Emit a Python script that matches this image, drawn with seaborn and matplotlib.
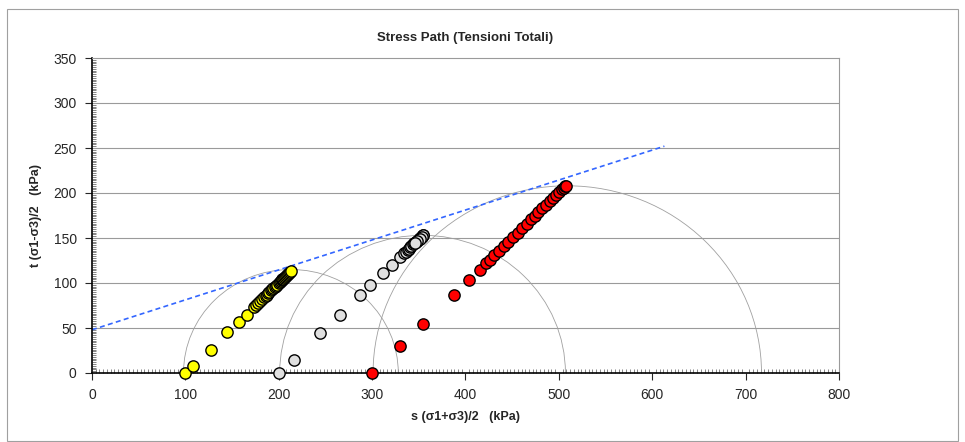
import numpy as np
import pandas as pd
import matplotlib
matplotlib.use('Agg')
import matplotlib.pyplot as plt
from matplotlib.patches import Arc, Rectangle
from matplotlib.ticker import MultipleLocator
import seaborn as sns

# stress path points, s and t in kPa
yellow_s = [100, 108, 127, 145, 157, 166, 173, 176, 178, 180, 182, 184, 186, 187, 189,
            190, 192, 193, 194, 196, 197, 198, 200, 201, 202, 203, 204, 205, 206, 207,
            208, 209, 210, 211, 212, 213]
yellow_t = [0, 8, 26, 46, 57, 65, 73, 76, 78, 80, 82, 84, 86, 87, 89,
            90, 92, 93, 94, 96, 97, 98, 100, 101, 102, 103, 104, 105, 106, 107,
            108, 109, 110, 111, 112, 113]

grey_s = [200, 216, 244, 266, 287, 298, 312, 321, 330, 334, 336, 338, 339, 341, 342,
          344, 345, 347, 348, 350, 351, 353, 354, 355, 353, 351, 348, 346]
grey_t = [0, 15, 44, 64, 87, 98, 111, 120, 129, 133, 135, 137, 138, 140, 141,
          143, 144, 146, 147, 149, 150, 152, 153, 153, 151, 149, 147, 145]

red_s = [300, 330, 355, 388, 404, 415, 422, 426, 431, 436, 441, 446, 451, 456, 461,
         466, 470, 474, 478, 482, 486, 490, 494, 497, 500, 503, 505, 507, 508]
red_t = [0, 30, 54, 87, 103, 114, 122, 126, 131, 136, 141, 146, 151, 156, 161,
         166, 171, 175, 179, 183, 187, 191, 195, 198, 201, 204, 206, 208, 208]

# Mohr circles at failure (centre s, radius t)
circle_s = [213, 354, 509]
circle_r = [115, 153, 208]

# failure envelope
env_s = [0, 613]
env_t = [48, 252]

series = [('yellow', yellow_s, yellow_t, '#ffff00'),
          ('grey', grey_s, grey_t, '#e0e0e0'),
          ('red', red_s, red_t, '#ff0000')]

sns.set_style('white')
plt.rcParams['font.family'] = ['Liberation Sans', 'DejaVu Sans']

fig = plt.figure(figsize=(9.65, 4.42), dpi=100)
ax = fig.add_axes([92 / 965, 1 - 373 / 442, 747 / 965, 315 / 442])

# chart frame
fig.patches.append(Rectangle((7 / 965, 1 - 441 / 442), 951 / 965, 432 / 442,
                             transform=fig.transFigure, fill=False,
                             edgecolor='#a0a0a0', linewidth=0.8))

for y in range(50, 350, 50):
    ax.axhline(y, color='#9a9a9a', linewidth=0.8, zorder=0)

for c, r in zip(circle_s, circle_r):
    ax.add_patch(Arc((c, 0), 2 * r, 2 * r, theta1=0, theta2=180,
                     color='#a0a0a0', linewidth=0.6, zorder=1))

sns.lineplot(x=env_s, y=env_t, ax=ax, color='#3366ff', linestyle=(0, (3, 2)),
             linewidth=1.2, zorder=2)

for name, s, t, col in series:
    df = pd.DataFrame({'s': s, 't': t})
    sns.scatterplot(data=df, x='s', y='t', ax=ax, color=col, edgecolor='black',
                    linewidth=1.0, s=66, zorder=3, clip_on=False)

ax.set_xlim(0, 800)
ax.set_ylim(0, 350)
ax.xaxis.set_major_locator(MultipleLocator(100))
ax.yaxis.set_major_locator(MultipleLocator(50))
ax.xaxis.set_minor_locator(MultipleLocator(4))
ax.yaxis.set_minor_locator(MultipleLocator(2))
ax.tick_params(which='major', direction='out', length=5, width=0.8, labelsize=10,
               bottom=True, left=True, pad=6)
ax.tick_params(which='minor', direction='in', length=3, width=0.5, color='#555555',
               bottom=True, left=True)

for side in ['top', 'right']:
    ax.spines[side].set_color('#9a9a9a')
    ax.spines[side].set_linewidth(0.8)
for side in ['left', 'bottom']:
    ax.spines[side].set_color('black')
    ax.spines[side].set_linewidth(1.2)

ax.set_xlabel('s (σ1+σ3)/2   (kPa)', fontsize=9, fontweight='bold', labelpad=6)
ax.set_ylabel('t (σ1-σ3)/2   (kPa)', fontsize=9, fontweight='bold', labelpad=8)
ax.set_title('Stress Path (Tensioni Totali)', fontsize=9.5, fontweight='bold', pad=12)

fig.savefig('out.png', dpi=100)
